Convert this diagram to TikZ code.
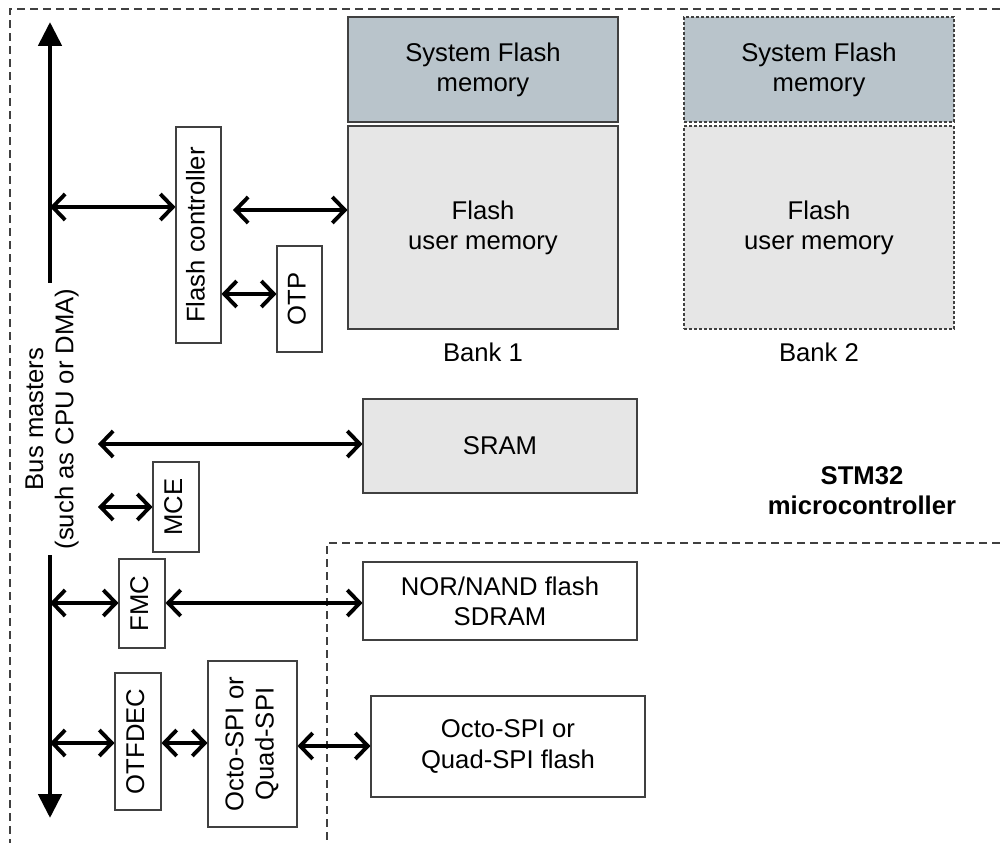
\documentclass[tikz,border=0pt]{standalone}
\usepackage{fontspec}
\setmainfont{Liberation Sans}
\usepackage{graphicx}
\usetikzlibrary{arrows.meta}

\definecolor{sysgray}{HTML}{B9C4CB}
\definecolor{usergray}{HTML}{E6E6E6}
\definecolor{edgegray}{HTML}{404040}

\tikzset{
  blk/.style={draw=edgegray,line width=0.6pt,inner sep=0pt,align=center},
  thinbank/.style={blk,dash pattern=on 0.6mm off 0.4mm},
  link/.style={line width=2.2pt,line cap=round,
    {Straight Barb[length=2.5mm,width=5.2mm]}-{Straight Barb[length=2.5mm,width=5.2mm]}},
  busline/.style={line width=2.8pt,-{Triangle[length=4.8mm,width=4.6mm]}},
  frame/.style={draw=edgegray,line width=0.7pt,dash pattern=on 1.6mm off 1mm},
}
\newcommand{\vlabel}[1]{\rotatebox{90}{\begin{tabular}{@{}c@{}}#1\end{tabular}}}

\begin{document}
\begin{tikzpicture}[x=0.2mm,y=-0.2mm,font=\fontsize{14.6}{17.2}\selectfont]
    \useasboundingbox (0,0) rectangle (1000,843);

    % device borders
    \draw[frame] (1000,9) -- (10,9) -- (10,843);
    \draw[frame] (1000,543) -- (327,543) -- (327,843);

    % bus masters
    \coordinate (busA) at (50,283);
    \coordinate (busAtip) at (50,22);
    \coordinate (busB) at (50,555);
    \coordinate (busBtip) at (50,818);
    \draw[busline] (busA) -- (busAtip);
    \draw[busline] (busB) -- (busBtip);
    \node[rotate=90,align=center] (busmasters) at (52,419) {Bus masters\\(such as CPU or DMA)};

    % embedded flash
    \node[blk,minimum width=0.9cm,minimum height=4.32cm] (fc) at (198.5,235) {\vlabel{Flash controller}};
    \node[blk,minimum width=0.9cm,minimum height=2.12cm] (otp) at (299.5,299) {\vlabel{OTP}};

    \node[blk,fill=sysgray,minimum width=5.4cm,minimum height=2.1cm] (sys1) at (483,69.5) {System Flash\\memory};
    \node[blk,fill=usergray,minimum width=5.4cm,minimum height=4.06cm] (user1) at (483,227.5) {Flash\\user memory};
    \node (bank1) at (483,352) {Bank 1};

    \node[thinbank,fill=sysgray,minimum width=5.4cm,minimum height=2.1cm] (sys2) at (819,69.5) {System Flash\\memory};
    \node[thinbank,fill=usergray,minimum width=5.4cm,minimum height=4.06cm] (user2) at (819,227.5) {Flash\\user memory};
    \node (bank2) at (819,352) {Bank 2};

    % SRAM and MCE
    \node[blk,fill=usergray,minimum width=5.48cm,minimum height=1.88cm] (sram) at (500,446) {SRAM};
    \node[blk,minimum width=0.92cm,minimum height=1.8cm] (mce) at (176,507) {\vlabel{MCE}};

    \node[font=\fontsize{14.6}{17.2}\selectfont\bfseries,align=center] (mcu) at (862,491) {STM32\\microcontroller};

    % external memories
    \node[blk,minimum width=0.92cm,minimum height=1.78cm] (fmc) at (142,603.5) {\vlabel{FMC}};
    \node[blk,minimum width=5.48cm,minimum height=1.56cm] (nor) at (500,601) {NOR/NAND flash\\SDRAM};
    \node[blk,minimum width=0.92cm,minimum height=2.74cm] (otfdec) at (138,741.5) {\vlabel{OTFDEC}};
    \node[blk,minimum width=1.78cm,minimum height=3.32cm] (ospi) at (252.5,744) {\vlabel{Octo-SPI or\\Quad-SPI}};
    \node[blk,minimum width=5.48cm,minimum height=2.02cm] (oflash) at (508,746.5) {Octo-SPI or\\Quad-SPI flash};

    % connections
    \coordinate (tapfc) at (50,207);
    \coordinate (fcout) at (233,210);
    \coordinate (sramtap) at (98,444);
    \coordinate (mcetap) at (98,507);
    \coordinate (tapfmc) at (50,603);
    \coordinate (tapotf) at (50,743);

    \draw[link] (tapfc) -- (tapfc -| fc.west);
    \draw[link] (fcout) -- (fcout -| user1.west);
    \draw[link] (fc.east |- 0,294) -- (otp.west |- 0,294);
    \draw[link] (sramtap) -- (sramtap -| sram.west);
    \draw[link] (mcetap) -- (mcetap -| mce.west);
    \draw[link] (tapfmc) -- (tapfmc -| fmc.west);
    \draw[link] (fmc.east |- tapfmc) -- (tapfmc -| nor.west);
    \draw[link] (tapotf) -- (tapotf -| otfdec.west);
    \draw[link] (otfdec.east |- tapotf) -- (tapotf -| ospi.west);
    \draw[link] (ospi.east |- 0,746) -- (oflash.west |- 0,746);
\end{tikzpicture}
\end{document}
